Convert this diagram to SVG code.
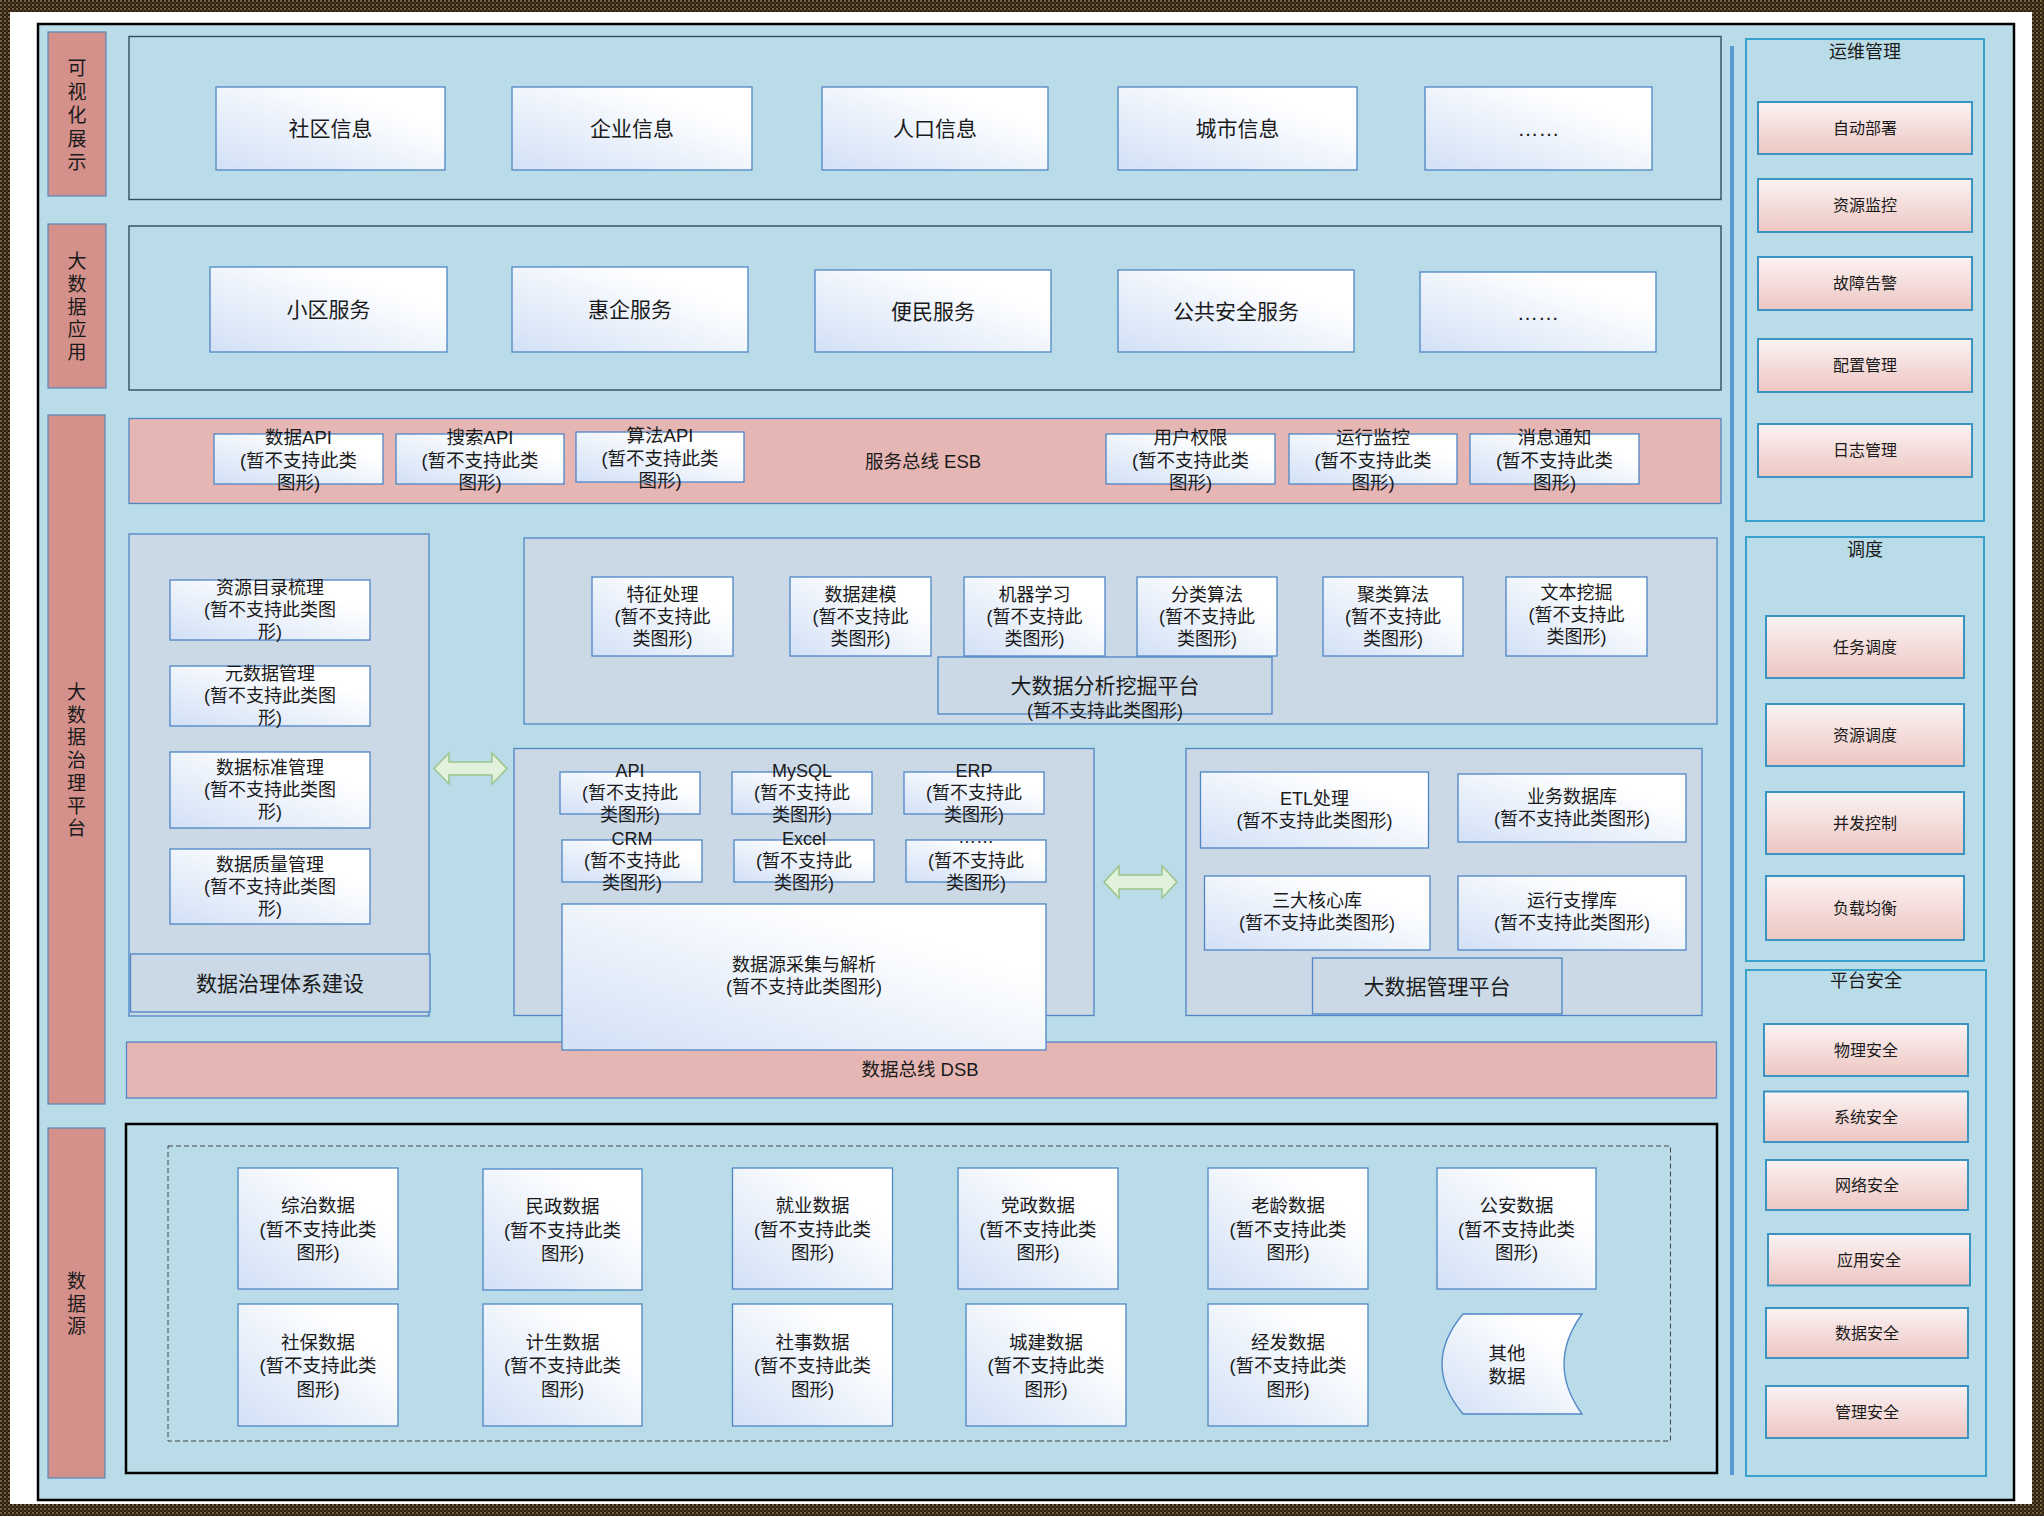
<svg xmlns="http://www.w3.org/2000/svg" width="2044" height="1516" viewBox="0 0 2044 1516">
<defs>
<pattern id="frm" width="4" height="4" patternUnits="userSpaceOnUse">
<rect width="4" height="4" fill="#2a1f14"/>
<rect width="2" height="2" fill="#7a6038"/>
<rect x="2" y="2" width="2" height="2" fill="#4a3a24"/>
</pattern>
<linearGradient id="gb" x1="0" y1="1" x2="1" y2="0">
<stop offset="0" stop-color="#d2e0f6"/>
<stop offset="0.75" stop-color="#ffffff"/>
<stop offset="1" stop-color="#ffffff"/>
</linearGradient>
<linearGradient id="gp" x1="0" y1="0" x2="0" y2="1">
<stop offset="0" stop-color="#fcf3f3"/>
<stop offset="1" stop-color="#ecc6c2"/>
</linearGradient>
<style>
text{font-family:"Liberation Sans","Noto Sans CJK SC",sans-serif;fill:#1a1a1a;text-anchor:middle;dominant-baseline:central}
.lab{fill:#d4918b;stroke:#5a86b8;stroke-width:1.2}
.lt{font-size:19px}
.row{fill:#b9dce8;stroke:#2f4f5f;stroke-width:1.4}
.bx{fill:url(#gb);stroke:#4f86c6;stroke-width:1.3}
.bus{fill:#e5b6b4;stroke:#4f86c6;stroke-width:1.3}
.grp{fill:#cbd8e5;stroke:#4f86c6;stroke-width:1.3}
.t21{font-size:21px}
.t18{font-size:18px}
.t185{font-size:18.5px}
.rc{fill:#b9dce8;stroke:#3aa0cc;stroke-width:2}
.ri{fill:url(#gp);stroke:#3a93c0;stroke-width:2}
.t16{font-size:16px}
.arr{fill:#e2f1dc;stroke:#9cc48a;stroke-width:1.5}
</style>
</defs>
<rect x="0" y="0" width="2044" height="1516" fill="url(#frm)"/>
<rect x="10" y="12" width="2022" height="1492" fill="#ffffff"/>
<rect x="38" y="24" width="1976" height="1476" fill="#b9dce8" stroke="#000" stroke-width="2.5"/>

<g id="layer-labels">
<g id="lab-vis"><rect class="lab" x="48" y="32" width="58" height="164"/>
<text class="lt"><tspan x="77" y="68">可</tspan><tspan x="77" y="91.5">视</tspan><tspan x="77" y="115">化</tspan><tspan x="77" y="138.5">展</tspan><tspan x="77" y="162">示</tspan></text></g>
<g id="lab-app"><rect class="lab" x="48" y="224" width="58" height="164"/>
<text class="lt"><tspan x="77" y="261">大</tspan><tspan x="77" y="284">数</tspan><tspan x="77" y="306.5">据</tspan><tspan x="77" y="329">应</tspan><tspan x="77" y="352">用</tspan></text></g>
<g id="lab-gov"><rect class="lab" x="48" y="415" width="57" height="689"/>
<text class="lt"><tspan x="76.5" y="692">大</tspan><tspan x="76.5" y="714.5">数</tspan><tspan x="76.5" y="737">据</tspan><tspan x="76.5" y="760">治</tspan><tspan x="76.5" y="783">理</tspan><tspan x="76.5" y="805.5">平</tspan><tspan x="76.5" y="828">台</tspan></text></g>
<g id="lab-src"><rect class="lab" x="48" y="1128" width="57" height="350"/>
<text class="lt"><tspan x="76.5" y="1281">数</tspan><tspan x="76.5" y="1303.5">据</tspan><tspan x="76.5" y="1326">源</tspan></text></g>
</g>

<g id="row-vis"><rect class="row" x="129" y="36.5" width="1592" height="163"/>
<g id="n-shequ"><rect class="bx" x="216" y="87" width="229" height="83"/><text class="t21" x="330.5" y="128.5">社区信息</text></g>
<g id="n-qiye"><rect class="bx" x="512" y="87" width="240" height="83"/><text class="t21" x="632" y="128.5">企业信息</text></g>
<g id="n-renkou"><rect class="bx" x="822" y="87" width="226" height="83"/><text class="t21" x="935" y="128.5">人口信息</text></g>
<g id="n-chengshi"><rect class="bx" x="1118" y="87" width="239" height="83"/><text class="t21" x="1237.5" y="128.5">城市信息</text></g>
<g id="n-vis-more"><rect class="bx" x="1425" y="87" width="227" height="83"/><text class="t21" x="1538.5" y="128.5">……</text></g>
</g>

<g id="row-app"><rect class="row" x="129" y="226" width="1592" height="164"/>
<g id="n-xiaoqu"><rect class="bx" x="210" y="267" width="237" height="85"/><text class="t21" x="328.5" y="309.5">小区服务</text></g>
<g id="n-huiqi"><rect class="bx" x="512" y="267" width="236" height="85"/><text class="t21" x="630" y="309.5">惠企服务</text></g>
<g id="n-bianmin"><rect class="bx" x="815" y="270" width="236" height="82"/><text class="t21" x="933" y="311">便民服务</text></g>
<g id="n-gonggong"><rect class="bx" x="1118" y="270" width="236" height="82"/><text class="t21" x="1236" y="311">公共安全服务</text></g>
<g id="n-app-more"><rect class="bx" x="1420" y="272" width="236" height="80"/><text class="t21" x="1538" y="312">……</text></g>
</g>

<g id="esb"><rect class="bus" x="129" y="418.5" width="1592" height="85"/>
<text class="t185" x="923" y="461">服务总线 ESB</text>
<g id="n-dataapi"><rect class="bx" x="214" y="434" width="169" height="50"/><text class="t185"><tspan x="298.5" y="437">数据API</tspan><tspan x="298.5" y="459.5">(暂不支持此类</tspan><tspan x="298.5" y="482">图形)</tspan></text></g>
<g id="n-searchapi"><rect class="bx" x="396" y="434" width="168" height="50"/><text class="t185"><tspan x="480" y="437">搜索API</tspan><tspan x="480" y="459.5">(暂不支持此类</tspan><tspan x="480" y="482">图形)</tspan></text></g>
<g id="n-algoapi"><rect class="bx" x="576" y="432" width="168" height="50"/><text class="t185"><tspan x="660" y="435">算法API</tspan><tspan x="660" y="457.5">(暂不支持此类</tspan><tspan x="660" y="480">图形)</tspan></text></g>
<g id="n-userauth"><rect class="bx" x="1106" y="434" width="169" height="50"/><text class="t185"><tspan x="1190.5" y="437">用户权限</tspan><tspan x="1190.5" y="459.5">(暂不支持此类</tspan><tspan x="1190.5" y="482">图形)</tspan></text></g>
<g id="n-runmon"><rect class="bx" x="1289" y="434" width="168" height="50"/><text class="t185"><tspan x="1373" y="437">运行监控</tspan><tspan x="1373" y="459.5">(暂不支持此类</tspan><tspan x="1373" y="482">图形)</tspan></text></g>
<g id="n-msg"><rect class="bx" x="1470" y="434" width="169" height="50"/><text class="t185"><tspan x="1554.5" y="437">消息通知</tspan><tspan x="1554.5" y="459.5">(暂不支持此类</tspan><tspan x="1554.5" y="482">图形)</tspan></text></g>
</g>

<g id="dsb"><rect class="bus" x="126.5" y="1042" width="1590" height="56"/><text class="t185" x="920" y="1069">数据总线 DSB</text></g>

<g id="gov"><rect class="grp" x="129" y="534" width="300" height="482"/>
<g id="n-res"><rect class="bx" x="170" y="580" width="200" height="60"/><text class="t18"><tspan x="270" y="588">资源目录梳理</tspan><tspan x="270" y="610">(暂不支持此类图</tspan><tspan x="270" y="632">形)</tspan></text></g>
<g id="n-meta"><rect class="bx" x="170" y="666" width="200" height="60"/><text class="t18"><tspan x="270" y="674">元数据管理</tspan><tspan x="270" y="696">(暂不支持此类图</tspan><tspan x="270" y="718">形)</tspan></text></g>
<g id="n-std"><rect class="bx" x="170" y="752" width="200" height="76"/><text class="t18"><tspan x="270" y="768">数据标准管理</tspan><tspan x="270" y="790">(暂不支持此类图</tspan><tspan x="270" y="812">形)</tspan></text></g>
<g id="n-qual"><rect class="bx" x="170" y="849" width="200" height="75"/><text class="t18"><tspan x="270" y="864.5">数据质量管理</tspan><tspan x="270" y="886.5">(暂不支持此类图</tspan><tspan x="270" y="908.5">形)</tspan></text></g>
<g id="n-govsys"><rect class="grp" x="130.5" y="954" width="299.5" height="58"/><text class="t21" x="280" y="983">数据治理体系建设</text></g>
</g>

<g id="mining"><rect class="grp" x="524" y="538" width="1193" height="186"/>
<g id="n-feat"><rect class="bx" x="592" y="577" width="141" height="79"/><text class="t18"><tspan x="662.5" y="594.5">特征处理</tspan><tspan x="662.5" y="616.5">(暂不支持此</tspan><tspan x="662.5" y="638.5">类图形)</tspan></text></g>
<g id="n-model"><rect class="bx" x="790" y="577" width="141" height="79"/><text class="t18"><tspan x="860.5" y="594.5">数据建模</tspan><tspan x="860.5" y="616.5">(暂不支持此</tspan><tspan x="860.5" y="638.5">类图形)</tspan></text></g>
<g id="n-ml"><rect class="bx" x="964" y="577" width="141" height="79"/><text class="t18"><tspan x="1034.5" y="594.5">机器学习</tspan><tspan x="1034.5" y="616.5">(暂不支持此</tspan><tspan x="1034.5" y="638.5">类图形)</tspan></text></g>
<g id="n-cls"><rect class="bx" x="1137" y="577" width="140" height="79"/><text class="t18"><tspan x="1207" y="594.5">分类算法</tspan><tspan x="1207" y="616.5">(暂不支持此</tspan><tspan x="1207" y="638.5">类图形)</tspan></text></g>
<g id="n-clu"><rect class="bx" x="1323" y="577" width="140" height="79"/><text class="t18"><tspan x="1393" y="594.5">聚类算法</tspan><tspan x="1393" y="616.5">(暂不支持此</tspan><tspan x="1393" y="638.5">类图形)</tspan></text></g>
<g id="n-text"><rect class="bx" x="1506" y="577" width="141" height="79"/><text class="t18"><tspan x="1576.5" y="592.5">文本挖掘</tspan><tspan x="1576.5" y="614.5">(暂不支持此</tspan><tspan x="1576.5" y="636.5">类图形)</tspan></text></g>
<g id="n-mining-plat"><rect class="grp" x="938" y="657" width="334" height="57"/><text><tspan class="t21" x="1105" y="685">大数据分析挖掘平台</tspan><tspan class="t18" x="1105" y="711">(暂不支持此类图形)</tspan></text></g>
</g>

<g id="collect"><rect class="grp" x="514" y="748.5" width="580" height="267"/>
<g id="n-api"><rect class="bx" x="560" y="772" width="140" height="42"/><text class="t18"><tspan x="630" y="771">API</tspan><tspan x="630" y="793">(暂不支持此</tspan><tspan x="630" y="815">类图形)</tspan></text></g>
<g id="n-mysql"><rect class="bx" x="732" y="772" width="140" height="42"/><text class="t18"><tspan x="802" y="771">MySQL</tspan><tspan x="802" y="793">(暂不支持此</tspan><tspan x="802" y="815">类图形)</tspan></text></g>
<g id="n-erp"><rect class="bx" x="904" y="772" width="140" height="42"/><text class="t18"><tspan x="974" y="771">ERP</tspan><tspan x="974" y="793">(暂不支持此</tspan><tspan x="974" y="815">类图形)</tspan></text></g>
<g id="n-crm"><rect class="bx" x="562" y="840" width="140" height="42"/><text class="t18"><tspan x="632" y="839">CRM</tspan><tspan x="632" y="861">(暂不支持此</tspan><tspan x="632" y="883">类图形)</tspan></text></g>
<g id="n-excel"><rect class="bx" x="734" y="840" width="140" height="42"/><text class="t18"><tspan x="804" y="839">Excel</tspan><tspan x="804" y="861">(暂不支持此</tspan><tspan x="804" y="883">类图形)</tspan></text></g>
<g id="n-src-more"><rect class="bx" x="906" y="840" width="140" height="42"/><text class="t18"><tspan x="976" y="837">……</tspan><tspan x="976" y="861">(暂不支持此</tspan><tspan x="976" y="883">类图形)</tspan></text></g>
<g id="n-collect-main"><rect class="bx" x="562" y="904" width="484" height="146"/><text class="t18"><tspan x="804" y="965">数据源采集与解析</tspan><tspan x="804" y="987">(暂不支持此类图形)</tspan></text></g>
</g>

<g id="mgmt"><rect class="grp" x="1186" y="748.5" width="516" height="267"/>
<g id="n-etl"><rect class="bx" x="1200.5" y="772" width="228" height="76"/><text class="t18"><tspan x="1314.5" y="799">ETL处理</tspan><tspan x="1314.5" y="821">(暂不支持此类图形)</tspan></text></g>
<g id="n-bizdb"><rect class="bx" x="1458" y="774" width="228" height="68"/><text class="t18"><tspan x="1572" y="797">业务数据库</tspan><tspan x="1572" y="819">(暂不支持此类图形)</tspan></text></g>
<g id="n-core"><rect class="bx" x="1204.5" y="876" width="225.5" height="74"/><text class="t18"><tspan x="1317" y="901">三大核心库</tspan><tspan x="1317" y="923">(暂不支持此类图形)</tspan></text></g>
<g id="n-runlib"><rect class="bx" x="1458" y="876" width="228" height="74"/><text class="t18"><tspan x="1572" y="901">运行支撑库</tspan><tspan x="1572" y="923">(暂不支持此类图形)</tspan></text></g>
<g id="n-mgmt-plat"><rect class="grp" x="1312.5" y="958" width="249.5" height="56"/><text class="t21" x="1437" y="986">大数据管理平台</text></g>
</g>

<g id="connectors">
<polygon class="arr" points="434,768.5 449,753 449,762 492,762 492,753 507,768.5 492,784 492,775 449,775 449,784"/>
<polygon class="arr" points="1104,882 1119,866 1119,875 1162,875 1162,866 1177,882 1162,898 1162,889 1119,889 1119,898"/>
</g>

<g id="sources">
<rect x="126" y="1124" width="1591" height="349" fill="none" stroke="#000" stroke-width="2.5"/>
<rect x="168" y="1146" width="1502.5" height="295" fill="none" stroke="#444" stroke-width="1" stroke-dasharray="5,3"/>
<g id="n-zongzhi"><rect class="bx" x="238" y="1168" width="160" height="121"/><text class="t185"><tspan x="318" y="1205">综治数据</tspan><tspan x="318" y="1228.5">(暂不支持此类</tspan><tspan x="318" y="1252">图形)</tspan></text></g>
<g id="n-minzheng"><rect class="bx" x="483" y="1169" width="159" height="121"/><text class="t185"><tspan x="562.5" y="1206">民政数据</tspan><tspan x="562.5" y="1229.5">(暂不支持此类</tspan><tspan x="562.5" y="1253">图形)</tspan></text></g>
<g id="n-jiuye"><rect class="bx" x="732.5" y="1168" width="160" height="121"/><text class="t185"><tspan x="812.5" y="1205">就业数据</tspan><tspan x="812.5" y="1228.5">(暂不支持此类</tspan><tspan x="812.5" y="1252">图形)</tspan></text></g>
<g id="n-dangzheng"><rect class="bx" x="958" y="1168" width="160" height="121"/><text class="t185"><tspan x="1038" y="1205">党政数据</tspan><tspan x="1038" y="1228.5">(暂不支持此类</tspan><tspan x="1038" y="1252">图形)</tspan></text></g>
<g id="n-laoling"><rect class="bx" x="1208" y="1168" width="160" height="121"/><text class="t185"><tspan x="1288" y="1205">老龄数据</tspan><tspan x="1288" y="1228.5">(暂不支持此类</tspan><tspan x="1288" y="1252">图形)</tspan></text></g>
<g id="n-gongan"><rect class="bx" x="1437" y="1168" width="159" height="121"/><text class="t185"><tspan x="1516.5" y="1205">公安数据</tspan><tspan x="1516.5" y="1228.5">(暂不支持此类</tspan><tspan x="1516.5" y="1252">图形)</tspan></text></g>
<g id="n-shebao"><rect class="bx" x="238" y="1304" width="160" height="122"/><text class="t185"><tspan x="318" y="1341.5">社保数据</tspan><tspan x="318" y="1365">(暂不支持此类</tspan><tspan x="318" y="1388.5">图形)</tspan></text></g>
<g id="n-jisheng"><rect class="bx" x="483" y="1304" width="159" height="122"/><text class="t185"><tspan x="562.5" y="1341.5">计生数据</tspan><tspan x="562.5" y="1365">(暂不支持此类</tspan><tspan x="562.5" y="1388.5">图形)</tspan></text></g>
<g id="n-sheshi"><rect class="bx" x="732.5" y="1304" width="160" height="122"/><text class="t185"><tspan x="812.5" y="1341.5">社事数据</tspan><tspan x="812.5" y="1365">(暂不支持此类</tspan><tspan x="812.5" y="1388.5">图形)</tspan></text></g>
<g id="n-chengjian"><rect class="bx" x="966" y="1304" width="160" height="122"/><text class="t185"><tspan x="1046" y="1341.5">城建数据</tspan><tspan x="1046" y="1365">(暂不支持此类</tspan><tspan x="1046" y="1388.5">图形)</tspan></text></g>
<g id="n-jingfa"><rect class="bx" x="1208" y="1304" width="160" height="122"/><text class="t185"><tspan x="1288" y="1341.5">经发数据</tspan><tspan x="1288" y="1365">(暂不支持此类</tspan><tspan x="1288" y="1388.5">图形)</tspan></text></g>
<g id="n-other"><path class="bx" d="M1463,1314 H1582 Q1546,1364 1582,1414 H1463 Q1421,1364 1463,1314 Z"/><text class="t185"><tspan x="1507" y="1353">其他</tspan><tspan x="1507" y="1376">数据</tspan></text></g>
</g>

<line x1="1732" y1="46" x2="1732" y2="1475" stroke="#5b9bd5" stroke-width="4"/>

<g id="ops"><rect class="rc" x="1746" y="39" width="238" height="482"/>
<text class="t18" x="1865" y="52">运维管理</text>
<g id="n-deploy"><rect class="ri" x="1758" y="102" width="214" height="52"/><text class="t16" x="1865" y="128">自动部署</text></g>
<g id="n-resmon"><rect class="ri" x="1758" y="179" width="214" height="53"/><text class="t16" x="1865" y="205.5">资源监控</text></g>
<g id="n-alarm"><rect class="ri" x="1758" y="257" width="214" height="53"/><text class="t16" x="1865" y="283.5">故障告警</text></g>
<g id="n-config"><rect class="ri" x="1758" y="339" width="214" height="53"/><text class="t16" x="1865" y="365.5">配置管理</text></g>
<g id="n-log"><rect class="ri" x="1758" y="424" width="214" height="53"/><text class="t16" x="1865" y="450.5">日志管理</text></g>
</g>

<g id="sched"><rect class="rc" x="1746" y="537" width="238" height="424"/>
<text class="t18" x="1865" y="550">调度</text>
<g id="n-task"><rect class="ri" x="1766" y="616" width="198" height="62"/><text class="t16" x="1865" y="647">任务调度</text></g>
<g id="n-ressch"><rect class="ri" x="1766" y="704" width="198" height="62"/><text class="t16" x="1865" y="735">资源调度</text></g>
<g id="n-conc"><rect class="ri" x="1766" y="792" width="198" height="62"/><text class="t16" x="1865" y="823">并发控制</text></g>
<g id="n-lb"><rect class="ri" x="1766" y="876" width="198" height="64"/><text class="t16" x="1865" y="908">负载均衡</text></g>
</g>

<g id="sec"><rect class="rc" x="1746" y="970" width="240" height="506"/>
<text class="t18" x="1866" y="981">平台安全</text>
<g id="n-phy"><rect class="ri" x="1764" y="1024" width="204" height="52"/><text class="t16" x="1866" y="1050">物理安全</text></g>
<g id="n-sys"><rect class="ri" x="1764" y="1091.5" width="204" height="50.5"/><text class="t16" x="1866" y="1117">系统安全</text></g>
<g id="n-net"><rect class="ri" x="1766" y="1160" width="202" height="50"/><text class="t16" x="1867" y="1185">网络安全</text></g>
<g id="n-appsec"><rect class="ri" x="1768" y="1234" width="202" height="51.5"/><text class="t16" x="1869" y="1260">应用安全</text></g>
<g id="n-datasec"><rect class="ri" x="1766" y="1308" width="202" height="50"/><text class="t16" x="1867" y="1333">数据安全</text></g>
<g id="n-mgsec"><rect class="ri" x="1766" y="1386" width="202" height="52"/><text class="t16" x="1867" y="1412">管理安全</text></g>
</g>
</svg>
